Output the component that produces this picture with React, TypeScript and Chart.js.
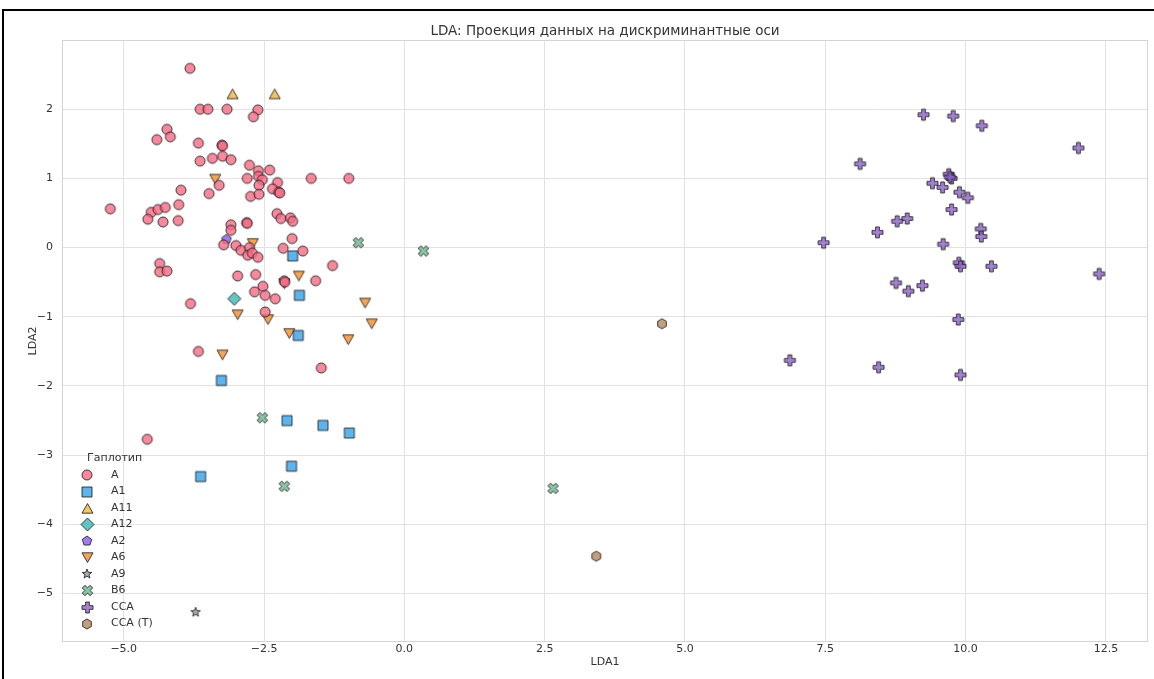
import React, { useEffect, useRef } from 'react';
import { Chart, registerables } from 'chart.js';

Chart.register(...registerables);

// ---------------- data ----------------
const haplotypes = ['A', 'A1', 'A11', 'A12', 'A2', 'A6', 'A9', 'B6', 'CCA', 'CCA (T)'];

const seriesA: [number, number][] = [
  [-3.82, 2.59], [-3.64, 2.0], [-3.5, 2.0], [-3.16, 2.0], [-2.61, 1.99], [-2.69, 1.89],
  [-4.23, 1.71], [-4.17, 1.6], [-4.41, 1.56], [-3.67, 1.51], [-3.25, 1.48], [-3.24, 1.47],
  [-3.64, 1.25], [-3.42, 1.29], [-3.24, 1.32], [-3.09, 1.27], [-2.76, 1.19], [-2.6, 1.11],
  [-2.4, 1.12], [-2.8, 1.0], [-2.6, 1.03], [-2.53, 0.98], [-1.66, 1.0], [-0.99, 1.0],
  [-3.3, 0.9], [-3.98, 0.83], [-3.48, 0.78], [-2.59, 0.9], [-2.26, 0.94], [-2.35, 0.85],
  [-2.24, 0.8], [-2.22, 0.79], [-2.74, 0.74], [-2.59, 0.77], [-5.24, 0.56], [-4.51, 0.51],
  [-4.39, 0.55], [-4.26, 0.58], [-4.02, 0.62], [-4.57, 0.41], [-4.3, 0.37], [-4.03, 0.39],
  [-2.27, 0.49], [-2.2, 0.42], [-2.03, 0.43], [-1.99, 0.38], [-3.09, 0.33], [-3.09, 0.25],
  [-2.81, 0.36], [-2.8, 0.35], [-2.0, 0.13], [-3.22, 0.04], [-3.0, 0.03], [-2.91, -0.04],
  [-2.76, 0.0], [-2.79, -0.11], [-2.71, -0.08], [-2.61, -0.14], [-2.16, -0.01], [-1.81, -0.05],
  [-1.28, -0.26], [-2.97, -0.41], [-2.65, -0.39], [-2.14, -0.48], [-2.13, -0.5], [-1.58, -0.48],
  [-2.52, -0.56], [-2.67, -0.64], [-2.48, -0.69], [-2.3, -0.74], [-3.81, -0.81], [-2.48, -0.93],
  [-4.36, -0.23], [-4.36, -0.35], [-4.23, -0.34], [-3.67, -1.5], [-1.48, -1.74], [-4.58, -2.77],
];
const seriesA1: [number, number][] = [
  [-1.99, -0.12], [-1.87, -0.69], [-1.89, -1.27], [-3.26, -1.92], [-2.09, -2.5],
  [-1.45, -2.57], [-0.98, -2.68], [-2.01, -3.16], [-3.63, -3.31],
];
const seriesA11: [number, number][] = [[-3.06, 2.22], [-2.31, 2.22]];
const seriesA12: [number, number][] = [[-3.03, -0.74]];
const seriesA2: [number, number][] = [[-3.17, 0.12]];
const seriesA6: [number, number][] = [
  [-3.37, 0.99], [-2.7, 0.06], [-2.14, -0.52], [-1.88, -0.41], [-0.7, -0.8], [-2.97, -0.97],
  [-2.43, -1.04], [-0.58, -1.1], [-2.05, -1.24], [-1.0, -1.33], [-3.24, -1.55],
];
const seriesA9: [number, number][] = [[-3.72, -5.27]];
const seriesB6: [number, number][] = [[-0.82, 0.07], [0.34, -0.05], [-2.53, -2.46], [-2.14, -3.45], [2.65, -3.48]];
const seriesCCA: [number, number][] = [
  [9.25, 1.92], [9.78, 1.9], [10.29, 1.76], [12.01, 1.44], [8.12, 1.21], [9.7, 1.06], [9.75, 1.0],
  [9.72, 1.02], [9.41, 0.93], [9.59, 0.87], [9.89, 0.8], [10.04, 0.72], [9.75, 0.55], [8.96, 0.42],
  [8.78, 0.38], [8.43, 0.22], [7.47, 0.07], [9.6, 0.05], [10.27, 0.27], [10.28, 0.16], [10.46, -0.27],
  [12.38, -0.38], [9.88, -0.22], [9.91, -0.27], [8.76, -0.51], [8.98, -0.63], [9.23, -0.55],
  [9.87, -1.04], [6.87, -1.63], [8.45, -1.73], [9.91, -1.84],
];
const seriesCCAT: [number, number][] = [[4.59, -1.1], [3.42, -4.46]];

const xTickValues = [-5, -2.5, 0, 2.5, 5, 7.5, 10, 12.5];
const yTickValues = [-5, -4, -3, -2, -1, 0, 1, 2];

// ---------------- styles ----------------
const FONT = '"DejaVu Sans", "Liberation Sans", sans-serif';
const EDGE = 'rgba(20,20,20,0.8)';

type Shape = 'circle' | 'square' | 'triUp' | 'triDown' | 'diamond' | 'pentagon' | 'star' | 'xfill' | 'plusfill' | 'hexagon';

const seriesStyle: { shape: Shape; size: number; fill: string }[] = [
  { shape: 'circle', size: 10, fill: 'rgba(245,108,133,0.8)' },
  { shape: 'square', size: 10, fill: 'rgba(55,160,230,0.8)' },
  { shape: 'triUp', size: 11, fill: 'rgba(238,180,70,0.8)' },
  { shape: 'diamond', size: 13, fill: 'rgba(60,184,180,0.8)' },
  { shape: 'pentagon', size: 10, fill: 'rgba(140,90,235,0.8)' },
  { shape: 'triDown', size: 11, fill: 'rgba(243,143,49,0.8)' },
  { shape: 'star', size: 10, fill: 'rgba(150,150,150,0.8)' },
  { shape: 'xfill', size: 11, fill: 'rgba(111,181,146,0.8)' },
  { shape: 'plusfill', size: 11, fill: 'rgba(140,98,200,0.8)' },
  { shape: 'hexagon', size: 10, fill: 'rgba(179,136,96,0.8)' },
];

function makeMarker(shape: Shape, size: number, fill: string): HTMLCanvasElement {
  const S = Math.ceil(size) + 6;
  const c = document.createElement('canvas');
  c.width = S;
  c.height = S;
  const ctx = c.getContext('2d')!;
  const cx = S / 2;
  const cy = S / 2;
  const r = size / 2;
  ctx.beginPath();
  const poly = (pts: [number, number][]) => {
    pts.forEach(([px, py], i) => {
      if (i === 0) ctx.moveTo(cx + px * r, cy + py * r);
      else ctx.lineTo(cx + px * r, cy + py * r);
    });
    ctx.closePath();
  };
  const regular = (n: number, start: number, rad = 1) => {
    const pts: [number, number][] = [];
    for (let i = 0; i < n; i++) {
      const a = start + (i * 2 * Math.PI) / n;
      pts.push([Math.cos(a) * rad, Math.sin(a) * rad]);
    }
    poly(pts);
  };
  const cross = (rot: number) => {
    const a = 0.34;
    const base: [number, number][] = [
      [-a, -1], [a, -1], [a, -a], [1, -a], [1, a], [a, a], [a, 1], [-a, 1], [-a, a], [-1, a], [-1, -a], [-a, -a],
    ];
    const cs = Math.cos(rot);
    const sn = Math.sin(rot);
    poly(base.map(([x, y]) => [x * cs - y * sn, x * sn + y * cs] as [number, number]));
  };
  switch (shape) {
    case 'circle':
      ctx.arc(cx, cy, r, 0, Math.PI * 2);
      break;
    case 'square':
      ctx.rect(cx - r, cy - r, 2 * r, 2 * r);
      break;
    case 'triUp':
      poly([[0, -0.9], [1, 0.85], [-1, 0.85]]);
      break;
    case 'triDown':
      poly([[0, 0.9], [1, -0.85], [-1, -0.85]]);
      break;
    case 'diamond':
      poly([[0, -1], [1, 0], [0, 1], [-1, 0]]);
      break;
    case 'pentagon':
      regular(5, -Math.PI / 2);
      break;
    case 'hexagon':
      regular(6, -Math.PI / 2);
      break;
    case 'star': {
      const pts: [number, number][] = [];
      for (let i = 0; i < 10; i++) {
        const a = -Math.PI / 2 + (i * Math.PI) / 5;
        const rr = i % 2 === 0 ? 1 : 0.42;
        pts.push([Math.cos(a) * rr, Math.sin(a) * rr]);
      }
      poly(pts);
      break;
    }
    case 'xfill':
      cross(Math.PI / 4);
      break;
    case 'plusfill':
      cross(0);
      break;
  }
  ctx.fillStyle = fill;
  ctx.fill();
  ctx.lineWidth = 1;
  ctx.strokeStyle = EDGE;
  ctx.stroke();
  return c;
}

const allSeries = [seriesA, seriesA1, seriesA11, seriesA12, seriesA2, seriesA6, seriesA9, seriesB6, seriesCCA, seriesCCAT];

export default function App() {
  const canvasRef = useRef<HTMLCanvasElement | null>(null);

  useEffect(() => {
    const canvas = canvasRef.current;
    if (!canvas) return;
    const markers = seriesStyle.map((s) => makeMarker(s.shape, s.size, s.fill));

    const framePlugin = {
      id: 'frame',
      beforeDatasetsDraw(chart: any) {
        const { ctx, chartArea } = chart;
        ctx.save();
        ctx.strokeStyle = '#d4d4d4';
        ctx.lineWidth = 1;
        ctx.strokeRect(chartArea.left + 0.5, chartArea.top + 0.5, chartArea.right - chartArea.left - 1, chartArea.bottom - chartArea.top - 1);
        ctx.restore();
      },
    };

    const legendPlugin = {
      id: 'insideLegend',
      afterDatasetsDraw(chart: any) {
        const ctx = chart.ctx;
        ctx.save();
        ctx.font = `11px ${FONT}`;
        ctx.fillStyle = '#333';
        ctx.textBaseline = 'middle';
        ctx.textAlign = 'left';
        ctx.fillText('Гаплотип', 87, 458);
        haplotypes.forEach((name, i) => {
          const y = 475 + i * 16.5;
          const m = markers[i];
          ctx.drawImage(m, Math.round(87 - m.width / 2), Math.round(y - m.height / 2));
          ctx.fillText(name, 111, y);
        });
        ctx.restore();
      },
    };

    const chart = new Chart(canvas, {
      type: 'scatter',
      data: {
        datasets: allSeries.map((pts, i) => ({
          label: haplotypes[i],
          data: pts.map(([x, y]) => ({ x, y })),
          pointStyle: markers[i],
          pointRadius: 5,
          pointHoverRadius: 5,
        })),
      },
      options: {
        responsive: false,
        animation: false,
        layout: { padding: { left: 0, right: 4, top: 0, bottom: 0 } },
        plugins: {
          legend: { display: false },
          tooltip: { enabled: false },
          title: {
            display: true,
            fullSize: false,
            text: 'LDA: Проекция данных на дискриминантные оси',
            color: '#333',
            font: { family: FONT, size: 13.5, weight: 'normal' },
            padding: { top: 23, bottom: 0.8 },
          },
        },
        scales: {
          x: {
            type: 'linear',
            min: -6.1,
            max: 13.25,
            afterBuildTicks: (scale: any) => {
              scale.ticks = xTickValues.map((v) => ({ value: v }));
            },
            afterFit: (scale: any) => {
              scale.height = 37;
            },
            grid: { color: '#e2e2e2', lineWidth: 1, drawTicks: false },
            border: { display: false },
            ticks: {
              padding: 1,
              color: '#333',
              font: { family: FONT, size: 11 },
              callback: (v: any) => Number(v).toFixed(1).replace('-', '\u2212'),
            },
            title: {
              display: true,
              text: 'LDA1',
              color: '#333',
              font: { family: FONT, size: 11 },
              padding: { top: 0, bottom: 10.4 },
            },
          },
          y: {
            type: 'linear',
            min: -5.7,
            max: 3.0,
            afterBuildTicks: (scale: any) => {
              scale.ticks = yTickValues.map((v) => ({ value: v }));
            },
            afterFit: (scale: any) => {
              scale.width = 62;
            },
            grid: { color: '#e2e2e2', lineWidth: 1, drawTicks: false },
            border: { display: false },
            ticks: {
              padding: 9,
              color: '#333',
              font: { family: FONT, size: 11 },
              callback: (v: any) => String(v).replace('-', '\u2212'),
            },
            title: {
              display: true,
              text: 'LDA2',
              color: '#333',
              font: { family: FONT, size: 11 },
              padding: { top: 26.4, bottom: 0 },
            },
          },
        },
      },
      plugins: [framePlugin, legendPlugin],
    } as any);

    return () => chart.destroy();
  }, []);

  return (
    <div style={{ position: 'fixed', left: 0, top: 0, width: 1154, height: 679, background: '#fff', overflow: 'hidden' }}>
      <canvas ref={canvasRef} width={1154} height={679} style={{ position: 'absolute', left: 0, top: 0, width: 1154, height: 679 }} />
      <div
        style={{
          position: 'absolute',
          left: 2,
          top: 9,
          right: 0,
          bottom: 0,
          borderTop: '2px solid #000',
          borderLeft: '2px solid #000',
          pointerEvents: 'none',
        }}
      />
    </div>
  );
}
